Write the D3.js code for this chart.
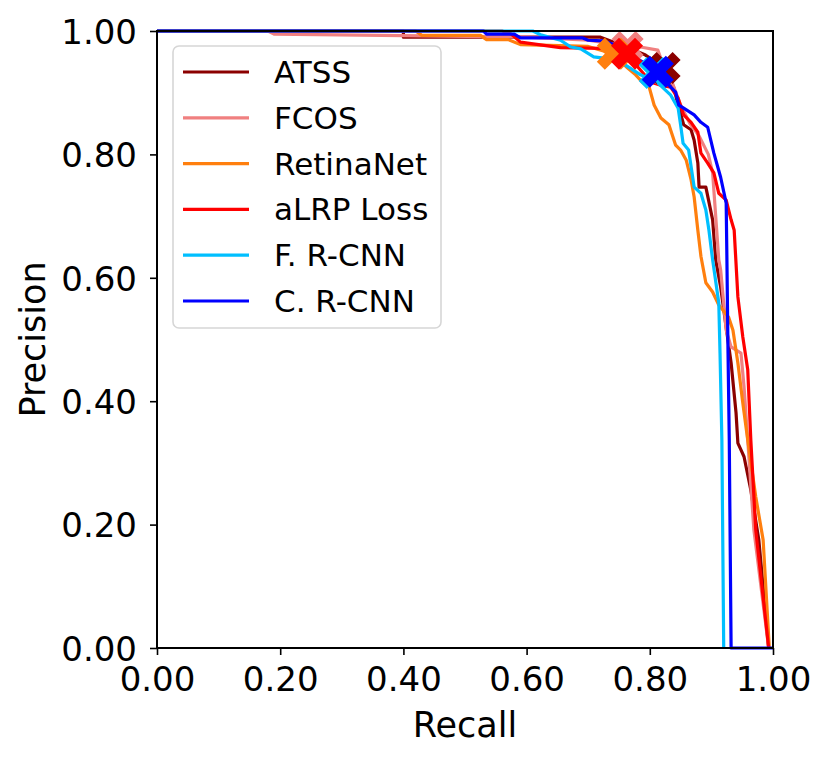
<!DOCTYPE html>
<html>
<head>
<meta charset="utf-8">
<script src="https://cdn.jsdelivr.net/npm/d3@7"></script>
<style>
  body { margin: 0; background: #fff; }
  svg text { font-family: "DejaVu Sans", sans-serif; fill: #000; }
</style>
</head>
<body>
<div id="chart"></div>
<script>
// PR curves, one [recall, precision] list per detector
const modelNames = ["ATSS", "FCOS", "RetinaNet", "aLRP Loss", "F. R-CNN", "C. R-CNN"];
const modelColors = ["#8b0000", "#f08080", "#ff7f0e", "#ff0000", "#00bfff", "#0000ff"];

const atssPts = [[0, 1], [0.40, 1], [0.40, 0.99], [0.72, 0.99], [0.76, 0.975], [0.793, 0.961], [0.824, 0.94],
  [0.839, 0.908], [0.846, 0.88], [0.855, 0.848], [0.867, 0.84], [0.872, 0.823], [0.878, 0.786], [0.880, 0.747],
  [0.891, 0.747], [0.902, 0.694], [0.907, 0.629], [0.915, 0.585], [0.924, 0.52], [0.932, 0.462], [0.940, 0.381],
  [0.943, 0.332], [0.948, 0.321], [0.953, 0.31], [0.964, 0.256], [0.977, 0.175], [0.993, 0]];

const fcosPts = [[0, 1], [0.18, 1], [0.19, 0.995], [0.60, 0.99], [0.70, 0.985], [0.76, 0.976], [0.785, 0.974],
  [0.813, 0.969], [0.82, 0.95], [0.835, 0.92], [0.85, 0.88], [0.865, 0.85], [0.88, 0.83], [0.895, 0.80],
  [0.902, 0.77], [0.912, 0.629], [0.915, 0.613], [0.924, 0.515], [0.932, 0.488], [0.948, 0.478], [0.953, 0.423],
  [0.959, 0.337], [0.969, 0.191], [0.993, 0]];

const retinaPts = [[0, 1], [0.42, 1], [0.43, 0.993], [0.525, 0.993], [0.535, 0.986], [0.57, 0.986], [0.59, 0.978],
  [0.70, 0.975], [0.74, 0.963], [0.764, 0.94], [0.777, 0.929], [0.788, 0.917], [0.799, 0.909], [0.807, 0.88],
  [0.818, 0.859], [0.831, 0.848], [0.842, 0.815], [0.850, 0.807], [0.859, 0.791], [0.867, 0.759], [0.872, 0.731],
  [0.878, 0.677], [0.883, 0.635], [0.891, 0.592], [0.902, 0.577], [0.912, 0.556], [0.928, 0.536], [0.935, 0.515],
  [0.943, 0.462], [0.951, 0.397], [0.959, 0.337], [0.972, 0.245], [0.984, 0.175], [0.994, 0]];

const alrpPts = [[0, 1], [0.56, 1], [0.575, 0.995], [0.59, 0.982], [0.655, 0.973], [0.72, 0.972], [0.763, 0.963],
  [0.782, 0.94], [0.802, 0.917], [0.818, 0.912], [0.834, 0.909], [0.846, 0.891], [0.855, 0.864], [0.867, 0.852],
  [0.878, 0.836], [0.883, 0.802], [0.894, 0.786], [0.904, 0.77], [0.912, 0.737], [0.924, 0.726], [0.932, 0.694],
  [0.937, 0.677], [0.943, 0.569], [0.951, 0.504], [0.959, 0.451], [0.964, 0.337], [0.972, 0.191], [0.993, 0]];

const frcnnPts = [[0, 1], [0.61, 1], [0.623, 0.994], [0.655, 0.985], [0.672, 0.974], [0.688, 0.971], [0.709, 0.958],
  [0.725, 0.956], [0.76, 0.945], [0.785, 0.929], [0.813, 0.916], [0.834, 0.896], [0.846, 0.875], [0.850, 0.848],
  [0.854, 0.818], [0.863, 0.807], [0.872, 0.747], [0.883, 0.737], [0.891, 0.71], [0.896, 0.677], [0.902, 0.629],
  [0.912, 0.559], [0.914, 0.478], [0.917, 0.337], [0.920, 0]];

const crcnnPts = [[0, 1], [0.53, 1], [0.535, 0.995], [0.58, 0.995], [0.59, 0.989], [0.69, 0.989], [0.70, 0.985],
  [0.725, 0.984], [0.75, 0.975], [0.78, 0.955], [0.813, 0.934], [0.834, 0.909], [0.842, 0.901], [0.847, 0.88],
  [0.855, 0.875], [0.872, 0.864], [0.883, 0.852], [0.894, 0.844], [0.904, 0.802], [0.915, 0.763], [0.924, 0.721],
  [0.925, 0.645], [0.927, 0.478], [0.929, 0.337], [0.932, 0], [1.0, 0]];

// chosen operating point per detector (big X markers)
const markerRecall = [0.824, 0.764, 0.74, 0.763, 0.808, 0.813];
const markerPrecision = [0.940, 0.974, 0.963, 0.963, 0.932, 0.934];

const yTicks = [0, 0.2, 0.4, 0.6, 0.8, 1.0];
const xTicks = [0, 0.2, 0.4, 0.6, 0.8, 1.0];

class PRChart {

    constructor(_parentElement) {
        this.parentElement = _parentElement;
        this.curves = [atssPts, fcosPts, retinaPts, alrpPts, frcnnPts, crcnnPts];
        this.initVis();
    }

    initVis() {
        let vis = this;
        vis.margin = { top: 31, right: 58, bottom: 112, left: 157 };
        vis.width = 831 - vis.margin.left - vis.margin.right;
        vis.height = 760 - vis.margin.top - vis.margin.bottom;

        vis.svg = d3.select(vis.parentElement)
            .append("svg")
            .attr("width", 831)
            .attr("height", 760)
            .append("g")
            .attr("transform", `translate(${vis.margin.left},${vis.margin.top})`);

        vis.x = d3.scaleLinear().domain([0, 1]).range([0, vis.width]);
        vis.y = d3.scaleLinear().domain([0, 1]).range([vis.height, 0]);

        vis.svg.append("defs").append("clipPath").attr("id", "plot-clip")
            .append("rect").attr("x", -2).attr("y", -2)
            .attr("width", vis.width + 4).attr("height", vis.height + 4);

        vis.updateVis();
    }

    updateVis() {
        let vis = this;

        const line = d3.line().x(d => vis.x(d[0])).y(d => vis.y(d[1]));

        vis.svg.append("g").attr("clip-path", "url(#plot-clip)")
            .selectAll(".pr-line")
            .data(vis.curves)
            .join("path")
            .attr("class", "pr-line")
            .attr("d", line)
            .attr("fill", "none")
            .attr("stroke", (d, i) => modelColors[i])
            .attr("stroke-width", 3.2)
            .attr("stroke-linejoin", "round");

        // matplotlib style filled "X"
        const s = 34;
        const plus = [[-1, -3], [-1, -1], [-3, -1], [-3, 1], [-1, 1], [-1, 3], [1, 3], [1, 1], [3, 1], [3, -1], [1, -1], [1, -3]];
        const xShape = plus.map(([a, b]) => [(a - b) / Math.SQRT2 * s / 6, (a + b) / Math.SQRT2 * s / 6]);
        const xPath = "M" + xShape.map(p => p.join(",")).join("L") + "Z";

        vis.svg.append("g")
            .selectAll(".op-marker")
            .data(modelNames)
            .join("path")
            .attr("class", "op-marker")
            .attr("d", xPath)
            .attr("transform", (d, i) => `translate(${vis.x(markerRecall[i])},${vis.y(markerPrecision[i])})`)
            .attr("fill", (d, i) => modelColors[i]);

        // axes
        const xAxis = vis.svg.append("g")
            .attr("transform", `translate(0,${vis.height})`)
            .call(d3.axisBottom(vis.x).tickValues(xTicks).tickFormat(d3.format(".2f")).tickSize(7).tickPadding(12));
        const yAxis = vis.svg.append("g")
            .call(d3.axisLeft(vis.y).tickValues(yTicks).tickFormat(d3.format(".2f")).tickSize(7).tickPadding(13));

        [xAxis, yAxis].forEach(ax => {
            ax.select(".domain").remove();
            ax.selectAll(".tick line").attr("stroke", "#000").attr("stroke-width", 1.6);
            ax.selectAll(".tick text").style("font-size", "34px").attr("fill", "#000");
        });
        yAxis.selectAll(".tick text").attr("dy", "0.36em");

        vis.svg.append("rect")
            .attr("width", vis.width)
            .attr("height", vis.height)
            .attr("fill", "none")
            .attr("stroke", "#000")
            .attr("stroke-width", 2);

        vis.svg.append("text")
            .attr("x", vis.width / 2)
            .attr("y", vis.height + 89)
            .attr("text-anchor", "middle")
            .style("font-size", "35px")
            .text("Recall");

        vis.svg.append("text")
            .attr("transform", `translate(${45 - vis.margin.left},${vis.height / 2}) rotate(-90)`)
            .attr("text-anchor", "middle")
            .style("font-size", "35px")
            .text("Precision");

        // legend
        const legend = vis.svg.append("g").attr("transform", "translate(16,15)");
        legend.append("rect")
            .attr("width", 268)
            .attr("height", 282)
            .attr("rx", 6)
            .attr("fill", "#fff")
            .attr("fill-opacity", 0.8)
            .attr("stroke", "#d6d6d6")
            .attr("stroke-width", 1.6);

        const rows = legend.selectAll(".legend-row")
            .data(modelNames)
            .join("g")
            .attr("class", "legend-row")
            .attr("transform", (d, i) => `translate(0,${26 + i * 45.8})`);

        rows.append("line")
            .attr("x1", 10).attr("x2", 76)
            .attr("stroke", (d, i) => modelColors[i])
            .attr("stroke-width", 3.2);

        rows.append("text")
            .attr("x", 101)
            .attr("y", 11)
            .style("font-size", "31px")
            .text(d => d);
    }
}

new PRChart("#chart");
</script>
</body>
</html>
